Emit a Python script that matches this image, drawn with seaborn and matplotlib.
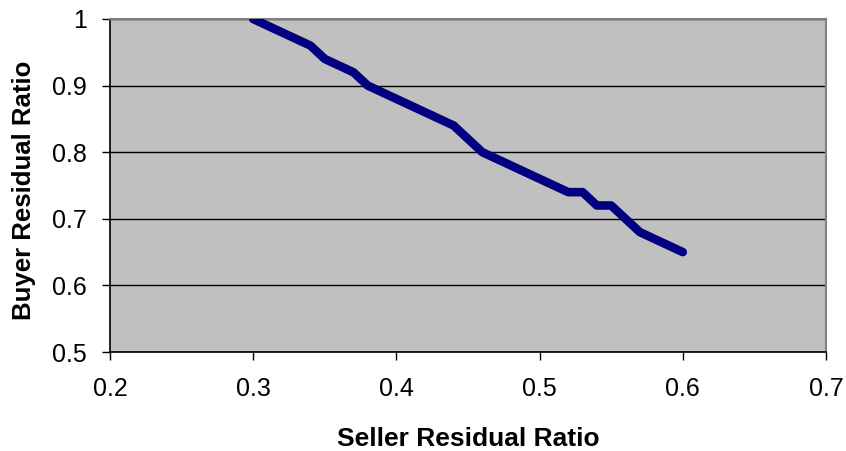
import matplotlib
matplotlib.use("Agg")
import matplotlib.pyplot as plt
import seaborn as sns
import pandas as pd

# Seller vs. buyer residual ratio
seller_ratio = [0.30, 0.31, 0.32, 0.33, 0.34, 0.35, 0.36, 0.37, 0.38, 0.39,
                0.40, 0.41, 0.42, 0.43, 0.44, 0.45, 0.46, 0.47, 0.48, 0.49,
                0.50, 0.51, 0.52, 0.53, 0.54, 0.55, 0.56, 0.57, 0.58, 0.59,
                0.60]
buyer_ratio = [1.00, 0.99, 0.98, 0.97, 0.96, 0.94, 0.93, 0.92, 0.90, 0.89,
               0.88, 0.87, 0.86, 0.85, 0.84, 0.82, 0.80, 0.79, 0.78, 0.77,
               0.76, 0.75, 0.74, 0.74, 0.72, 0.72, 0.70, 0.68, 0.67, 0.66,
               0.65]
x_ticks = [0.2, 0.3, 0.4, 0.5, 0.6, 0.7]
y_ticks = [0.5, 0.6, 0.7, 0.8, 0.9, 1.0]
y_tick_labels = ["0.5", "0.6", "0.7", "0.8", "0.9", "1"]

df = pd.DataFrame({"seller": seller_ratio, "buyer": buyer_ratio})

sns.set_theme(style="white")
plt.rcParams["font.family"] = ["Liberation Sans", "DejaVu Sans"]

fig = plt.figure(figsize=(8.46, 4.51), dpi=100)
ax = fig.add_axes([110 / 846, 99 / 451, 716 / 846, 333 / 451])
ax.set_facecolor("#C0C0C0")

sns.lineplot(data=df, x="seller", y="buyer", ax=ax, color="#000080",
             linewidth=6.2, sort=False, estimator=None,
             solid_capstyle="round", solid_joinstyle="round", zorder=3)

ax.set_xlim(0.2, 0.7)
ax.set_ylim(0.5, 1.0)
ax.set_xticks(x_ticks)
ax.set_xticklabels([f"{t:.1f}" for t in x_ticks])
ax.set_yticks(y_ticks)
ax.set_yticklabels(y_tick_labels)

ax.yaxis.grid(True, color="black", linewidth=1.0)
ax.xaxis.grid(False)
ax.set_axisbelow(True)

for side in ("left", "bottom"):
    ax.spines[side].set_color("black")
    ax.spines[side].set_linewidth(1.2)
for side in ("top", "right"):
    ax.spines[side].set_color("#808080")
    ax.spines[side].set_linewidth(1.5)

ax.tick_params(axis="both", which="major", direction="out", length=6,
               width=1, color="black", labelsize=18, labelcolor="black",
               left=True, bottom=True)
ax.tick_params(axis="x", pad=12)
ax.tick_params(axis="y", pad=10.5)

ax.set_xlabel("Seller Residual Ratio", fontsize=19, fontweight="bold",
              labelpad=18.5, color="black")
ax.set_ylabel("Buyer Residual Ratio", fontsize=18.5, fontweight="bold",
              color="black")
ax.yaxis.set_label_coords(-0.104, 0.485)

fig.savefig("out.png", dpi=100, facecolor="white")
